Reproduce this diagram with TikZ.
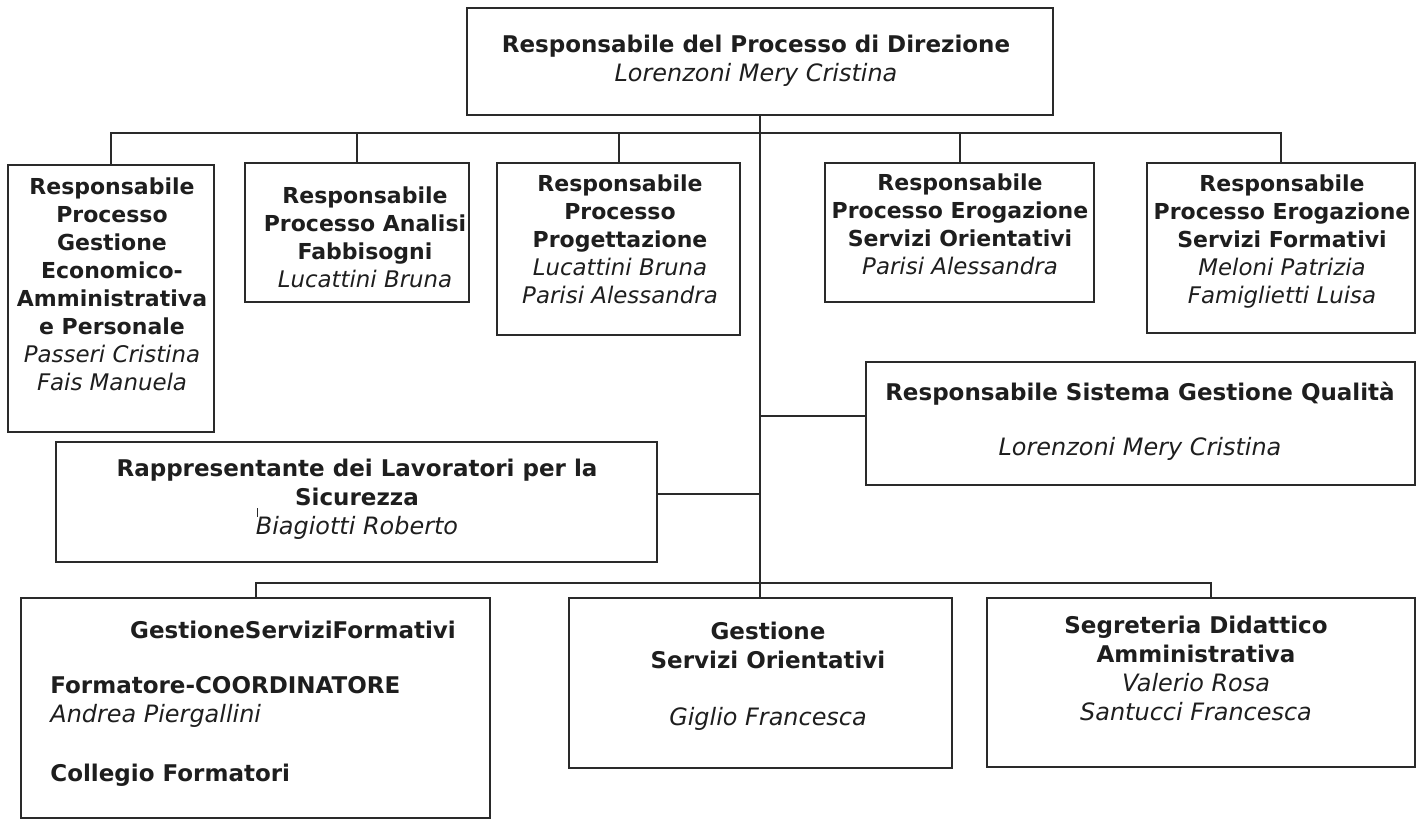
\documentclass[tikz,border=0pt]{standalone}
\usepackage{fontspec}
\setmainfont{DejaVu Sans}
\newfontfamily\namefont{DejaVu Sans}[Scale=1.04]
\definecolor{ink}{HTML}{1E1E1E}
\definecolor{linec}{HTML}{2A2A2A}
\newcommand\nm{\namefont\itshape}
\newcommand\fA{\fontsize{11}{14}\selectfont}
\newcommand\fB{\fontsize{11.5}{14.5}\selectfont}
\newcommand\mkbox[5]{\node[box, minimum width={(#4-#2)*0.5pt}, minimum height={(#5-#3)*0.5pt}] (#1) at ({(#2+#4)/2},{(#3+#5)/2}) {};}
\tikzset{
  box/.style={draw=linec, line width=1pt, inner sep=0pt, rectangle},
  conn/.style={draw=linec, line width=1pt},
  txtA/.style={inner sep=0pt, align=center, text=ink, font=\fA, execute at begin node=\strut, execute at end node=\strut},
  txtB/.style={inner sep=0pt, align=center, text=ink, font=\fB, execute at begin node=\strut, execute at end node=\strut},
}
\begin{document}
\begin{tikzpicture}[x=0.5pt,y=-0.5pt]
\useasboundingbox (0,0) rectangle (1417,820);
% boxes
\mkbox{top}{467}{8}{1053}{115}
\mkbox{p1}{8}{165}{214}{432}
\mkbox{p2}{245}{163}{469}{302}
\mkbox{p3}{497}{163}{740}{335}
\mkbox{p4}{825}{163}{1094}{302}
\mkbox{p5}{1147}{163}{1415}{333}
\mkbox{q}{866}{362}{1415}{485}
\mkbox{rls}{56}{442}{657}{562}
\mkbox{g1}{21}{598}{490}{818}
\mkbox{g2}{569}{598}{952}{768}
\mkbox{g3}{987}{598}{1415}{767}
% helper coordinates
\coordinate (busT) at (0,133);
\coordinate (qy) at (0,416);
\coordinate (ry) at (0,494);
\coordinate (busB) at (0,583);
\coordinate (g3d) at (1211,583);
% connectors
\draw[conn] (top.south) -- (top.south |- g2.north);
\draw[conn] (p1.north) -- (p1.north |- busT) -- (p5.north |- busT) -- (p5.north);
\draw[conn] (p2.north) -- (p2.north |- busT);
\draw[conn] (p3.north) -- (p3.north |- busT);
\draw[conn] (p4.north) -- (p4.north |- busT);
\draw[conn] (top.south |- qy) -- (q.west |- qy);
\draw[conn] (rls.east |- ry) -- (top.south |- ry);
\draw[conn] (g1.north) -- (g1.north |- busB) -- (g3d) -- (g3d |- g3.north);
% texts
\node[txtB] (topT) at (756,63) {\bfseries Responsabile del Processo di Direzione\\ \nm Lorenzoni Mery Cristina};
\node[txtA] (p1T) at (112,288) {\bfseries Responsabile\\ \bfseries Processo\\ \bfseries Gestione\\ \bfseries Economico-\\ \bfseries Amministrativa\\ \bfseries e Personale\\ \nm Passeri Cristina\\ \nm Fais Manuela};
\node[txtA] (p2T) at (365,241) {\bfseries Responsabile\\ \bfseries Processo Analisi\\ \bfseries Fabbisogni\\ \nm Lucattini Bruna};
\node[txtA] (p3T) at (620,243) {\bfseries Responsabile\\ \bfseries Processo\\ \bfseries Progettazione\\ \nm Lucattini Bruna\\ \nm Parisi Alessandra};
\node[txtA] (p4T) at (960,228) {\bfseries Responsabile\\ \bfseries Processo Erogazione\\ \bfseries Servizi Orientativi\\ \nm Parisi Alessandra};
\node[txtA] (p5T) at (1282,243) {\bfseries Responsabile\\ \bfseries Processo Erogazione\\ \bfseries Servizi Formativi\\ \nm Meloni Patrizia\\ \nm Famiglietti Luisa};
\node[txtB] (qT) at (1140,423) {\bfseries Responsabile Sistema Gestione Qualità\\[13pt] \nm Lorenzoni Mery Cristina};
\node[txtB] (rlsT) at (357,501) {\bfseries Rappresentante dei Lavoratori per la\\ \bfseries Sicurezza\\ \nm Biagiotti Roberto};
\draw[draw=linec, line width=0.5pt] (257,508) -- (257,517);
\node[txtB] (g1T) at (293,633) {\bfseries GestioneServiziFormativi};
\node[txtB, align=left, anchor=west] (g1L) at (50,733) {\bfseries Formatore-COORDINATORE\\ \nm Andrea Piergallini\\[15pt] \bfseries Collegio Formatori};
\node[txtB] (g2T) at (768,678) {\bfseries Gestione\\ \bfseries Servizi Orientativi\\[14pt] \nm Giglio Francesca};
\node[txtB] (g3T) at (1196,673) {\bfseries Segreteria Didattico\\ \bfseries Amministrativa\\ \nm Valerio Rosa\\ \nm Santucci Francesca};
\end{tikzpicture}
\end{document}
